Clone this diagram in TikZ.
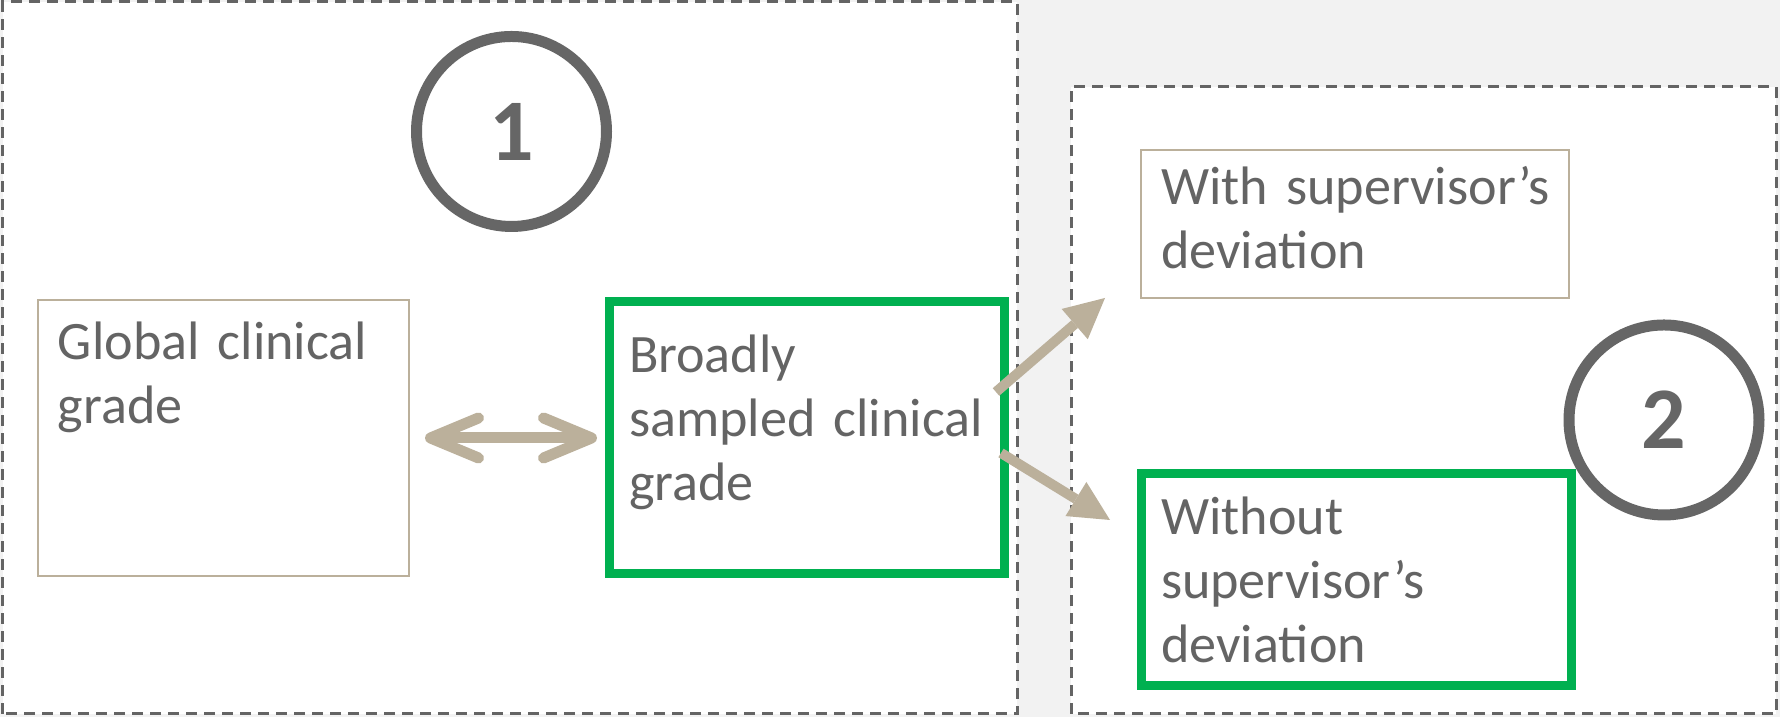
\documentclass[tikz,border=0pt]{standalone}
\usepackage{fontspec}
\setmainfont{Carlito}[WordSpace=0.75]
\usepackage{tikz}
\usetikzlibrary{arrows.meta}
\definecolor{tan}{RGB}{187,176,155}
\definecolor{grn}{RGB}{0,176,80}
\definecolor{ringgray}{RGB}{102,102,102}
\definecolor{txtgray}{RGB}{100,100,100}
\definecolor{dashgray}{RGB}{100,100,100}
\definecolor{back}{RGB}{242,242,242}

\begin{document}
\begin{tikzpicture}
	\tikzstyle{every node} = [rectangle, text=txtgray, font=\fontsize{15.4pt}{18.2pt}\selectfont]
	\tikzstyle{plainbox}   = [draw=tan, line width=.02cm, anchor=north west, align=left, inner xsep=.2cm, inner ysep=0, outer sep=0]
	\tikzstyle{greenbox}   = [plainbox, draw=grn, line width=.09cm]
	\tikzstyle{ringnode}   = [circle, draw=ringgray, text=ringgray, line width=.11cm, minimum size=1.9cm, inner sep=0, font=\fontsize{25pt}{25pt}\selectfont\bfseries]
	\tikzstyle{group}      = [draw=dashgray, fill=white, line width=.03cm, dash pattern=on .11cm off .07cm]
	\tikzstyle{twoway}     = [draw=tan, line width=.11cm, {Straight Barb[round,length=.48cm,width=.4cm]}-{Straight Barb[round,length=.48cm,width=.4cm]}, shorten <=.16cm, shorten >=.12cm]
	\tikzstyle{oneway}     = [draw=tan, line width=.1cm, -{Triangle[length=.4cm,width=.4cm,line width=0pt]}]
	\useasboundingbox (0,0) rectangle (17.8,7.17);
	\fill[back] (0,0) rectangle (17.8,7.17);
	\draw[group] (.03,.03) rectangle (10.17,7.15);
	\draw[group] (10.71,.03) rectangle (17.76,6.30);
	\node[plainbox, text width=3.31cm, text height=.6cm, text depth=2.16cm]  (glob)  at (.38, 4.17)  {Global clinical\\grade};
	\node[greenbox, text width=3.55cm, text height=.71cm, text depth=2.01cm] (broad) at (6.09, 4.15)  {Broadly\\sampled clinical\\grade};
	\node[plainbox, text width=3.88cm, text height=.55cm, text depth=.93cm]  (with)  at (11.41, 5.67) {With supervisor’s\\devia\kern0pt tion};
	\node[greenbox, text width=3.90cm, text height=.61cm, text depth=1.51cm] (wo)    at (11.41, 2.43) {Without\\supervisor’s\\devia\kern0pt tion};
	\node[ringnode] (one) at (5.115, 5.855) {1};
	\node[ringnode] (two) at (16.64, 2.97)  {2};
	\draw[twoway] (glob) -- (broad);
	\draw[oneway] ([shift={(-.08,.46)}]broad.east)  -- ([xshift=-.36cm]with.south west);
	\draw[oneway] ([shift={(-.03,-.15)}]broad.east) -- ([shift={(-.31,-.46)}]wo.north west);
\end{tikzpicture}
\end{document}
